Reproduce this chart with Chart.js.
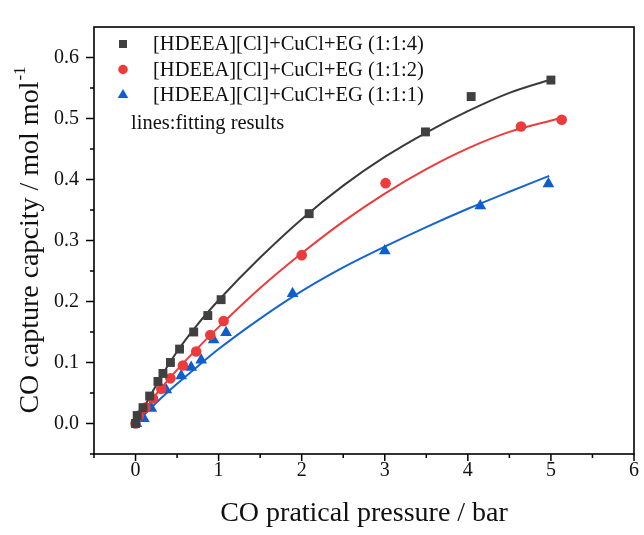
<!DOCTYPE html>
<html>
<head>
<meta charset="utf-8">
<script src="https://cdn.jsdelivr.net/npm/chart.js@4.4.1/dist/chart.umd.min.js"></script>
<style>
  html, body { margin: 0; padding: 0; background: #fff; }
</style>
</head>
<body>
<canvas id="graficoCO" width="644" height="535"></canvas>
<script>
// valores
const xTicks = [0, 1, 2, 3, 4, 5, 6];
const yTicks = [0.0, 0.1, 0.2, 0.3, 0.4, 0.5, 0.6];
const nombres = [
    '[HDEEA][Cl]+CuCl+EG (1:1:4)',
    '[HDEEA][Cl]+CuCl+EG (1:1:2)',
    '[HDEEA][Cl]+CuCl+EG (1:1:1)'
];
const notaLineas = 'lines:fitting results';

// puntos experimentales
const presion114 = [0, 0.02, 0.09, 0.17, 0.27, 0.33, 0.42, 0.53, 0.70, 0.87, 1.03, 2.09, 3.49, 4.04, 5.00];
const captura114 = [0, 0.013, 0.026, 0.045, 0.069, 0.082, 0.100, 0.122, 0.150, 0.177, 0.203, 0.344, 0.478, 0.536, 0.563];
const presion112 = [0, 0.04, 0.12, 0.21, 0.31, 0.42, 0.57, 0.73, 0.90, 1.06, 2.00, 3.01, 4.64, 5.13];
const captura112 = [0, 0.013, 0.026, 0.041, 0.057, 0.074, 0.095, 0.118, 0.145, 0.168, 0.276, 0.394, 0.487, 0.498];
const presion111 = [0.01, 0.10, 0.19, 0.37, 0.55, 0.67, 0.79, 0.94, 1.09, 1.89, 3.00, 4.15, 4.97];
const captura111 = [0, 0.008, 0.025, 0.055, 0.078, 0.092, 0.104, 0.137, 0.149, 0.213, 0.283, 0.357, 0.393];

// curvas de ajuste (leídas sobre la línea)
const ajusteX114 = [0, 0.25, 0.5, 0.75, 1.0, 1.5, 2.0, 2.5, 3.0, 3.5, 4.0, 4.5, 5.0];
const ajusteY114 = [0, 0.063, 0.118, 0.163, 0.202, 0.272, 0.335, 0.390, 0.437, 0.477, 0.512, 0.542, 0.564];
const ajusteX112 = [0, 0.25, 0.5, 0.75, 1.0, 1.5, 2.0, 2.5, 3.0, 3.5, 4.0, 4.5, 5.1];
const ajusteY112 = [0, 0.048, 0.088, 0.124, 0.158, 0.222, 0.279, 0.331, 0.377, 0.417, 0.451, 0.478, 0.500];
const ajusteX111 = [0, 0.25, 0.5, 0.75, 1.0, 1.5, 2.0, 2.5, 3.0, 3.5, 4.0, 4.5, 4.98];
const ajusteY111 = [0, 0.034, 0.065, 0.094, 0.122, 0.172, 0.217, 0.256, 0.290, 0.322, 0.352, 0.380, 0.406];

const colores = ['#404040', '#ec3b3b', '#0d5fd0'];
const coloresLinea = ['#3a3a3a', '#ec3b3b', '#1565d0'];
const formas = ['rect', 'circle', 'triangle'];
const radios = [6.3, 5.3, 6.8];

const fuente = "'Liberation Serif', 'Times New Roman', serif";

const puntos = (xs, ys) => xs.map((x, i) => ({ x: x, y: ys[i] }));

const marcas = [
    puntos(presion114, captura114),
    puntos(presion112, captura112),
    puntos(presion111, captura111)
];
const ajustes = [
    puntos(ajusteX114, ajusteY114),
    puntos(ajusteX112, ajusteY112),
    puntos(ajusteX111, ajusteY111)
];

const datasets = [];
ajustes.forEach((d, i) => {
    datasets.push({
        label: 'ajuste ' + i,
        data: d,
        showLine: true,
        borderColor: coloresLinea[i],
        borderWidth: 2,
        pointRadius: 0,
        cubicInterpolationMode: 'monotone',
        order: 2
    });
});
marcas.forEach((d, i) => {
    datasets.push({
        label: nombres[i],
        data: d,
        showLine: false,
        pointStyle: formas[i],
        pointRadius: radios[i],
        backgroundColor: colores[i],
        borderColor: colores[i],
        borderWidth: 0,
        order: 1
    });
});

// marco, marcas de los ejes, título Y y leyenda
const marcoPlugin = {
    id: 'marco',
    afterDraw(chart) {
        const { ctx, chartArea: a, scales: { x, y } } = chart;
        ctx.save();
        ctx.strokeStyle = '#000';
        ctx.lineWidth = 1.6;
        ctx.strokeRect(a.left, a.top, a.right - a.left, a.bottom - a.top);

        ctx.lineWidth = 1.5;
        ctx.beginPath();
        for (let v = -0.5; v <= 6.001; v += 0.5) {
            const px = x.getPixelForValue(v);
            const mayor = Math.abs(v - Math.round(v)) < 1e-6;
            ctx.moveTo(px, a.bottom);
            ctx.lineTo(px, a.bottom + (mayor ? 7 : 4));
        }
        for (let v = -0.05; v <= 0.6001; v += 0.05) {
            const py = y.getPixelForValue(v);
            const mayor = Math.abs(v * 10 - Math.round(v * 10)) < 1e-6;
            ctx.moveTo(a.left, py);
            ctx.lineTo(a.left - (mayor ? 8 : 4), py);
        }
        ctx.stroke();

        // título del eje Y con superíndice
        const principal = 'CO capture capcity / mol mol';
        const sup = '-1';
        ctx.fillStyle = '#111';
        ctx.translate(31, (a.top + a.bottom) / 2);
        ctx.rotate(-Math.PI / 2);
        ctx.font = '28px ' + fuente;
        const w1 = ctx.measureText(principal).width;
        ctx.font = '17px ' + fuente;
        const w2 = ctx.measureText(sup).width;
        const x0 = -(w1 + w2) / 2;
        ctx.textBaseline = 'middle';
        ctx.textAlign = 'left';
        ctx.font = '28px ' + fuente;
        ctx.fillText(principal, x0, 0);
        ctx.font = '17px ' + fuente;
        ctx.fillText(sup, x0 + w1 + 1, -10);
        ctx.restore();

        // leyenda
        ctx.save();
        ctx.font = '20.5px ' + fuente;
        ctx.fillStyle = '#111';
        ctx.textBaseline = 'middle';
        const filas = [44, 69.5, 95];
        nombres.forEach((n, i) => {
            ctx.fillStyle = colores[i];
            ctx.strokeStyle = colores[i];
            Chart.helpers.drawPoint(ctx, { pointStyle: formas[i], radius: radios[i] * 0.9, borderWidth: 0 }, 123, filas[i]);
            ctx.fillStyle = '#111';
            ctx.fillText(n, 153, filas[i] + 1);
        });
        ctx.fillText(notaLineas, 131, 124);
        ctx.restore();
    }
};

const ctxCO = document.getElementById('graficoCO').getContext('2d');
const chartCO = new Chart(ctxCO, {
    type: 'scatter',
    data: { datasets: datasets },
    options: {
        responsive: false,
        animation: false,
        devicePixelRatio: 1,
        layout: { padding: { top: 14, right: 6, left: 0, bottom: 0 } },
        plugins: {
            legend: { display: false },
            tooltip: { enabled: false }
        },
        scales: {
            x: {
                type: 'linear',
                min: -0.5,
                max: 6,
                afterBuildTicks: s => { s.ticks = xTicks.map(v => ({ value: v })); },
                afterFit: s => { s.height = 81; },
                grid: { display: false, drawTicks: false },
                border: { display: false },
                ticks: {
                    color: '#111',
                    padding: 5,
                    maxRotation: 0,
                    font: { family: fuente, size: 20 },
                    callback: v => String(v)
                },
                title: {
                    display: true,
                    text: 'CO pratical pressure / bar',
                    color: '#111',
                    font: { family: fuente, size: 28 },
                    padding: { top: 0, bottom: 5 }
                }
            },
            y: {
                type: 'linear',
                min: -0.05,
                max: 0.65,
                afterBuildTicks: s => { s.ticks = yTicks.map(v => ({ value: v })); },
                afterFit: s => { s.width = 94; },
                grid: { display: false, drawTicks: false },
                border: { display: false },
                ticks: {
                    color: '#111',
                    padding: 15,
                    font: { family: fuente, size: 20 },
                    callback: v => Number(v).toFixed(1)
                }
            }
        }
    },
    plugins: [marcoPlugin]
});
</script>
</body>
</html>
